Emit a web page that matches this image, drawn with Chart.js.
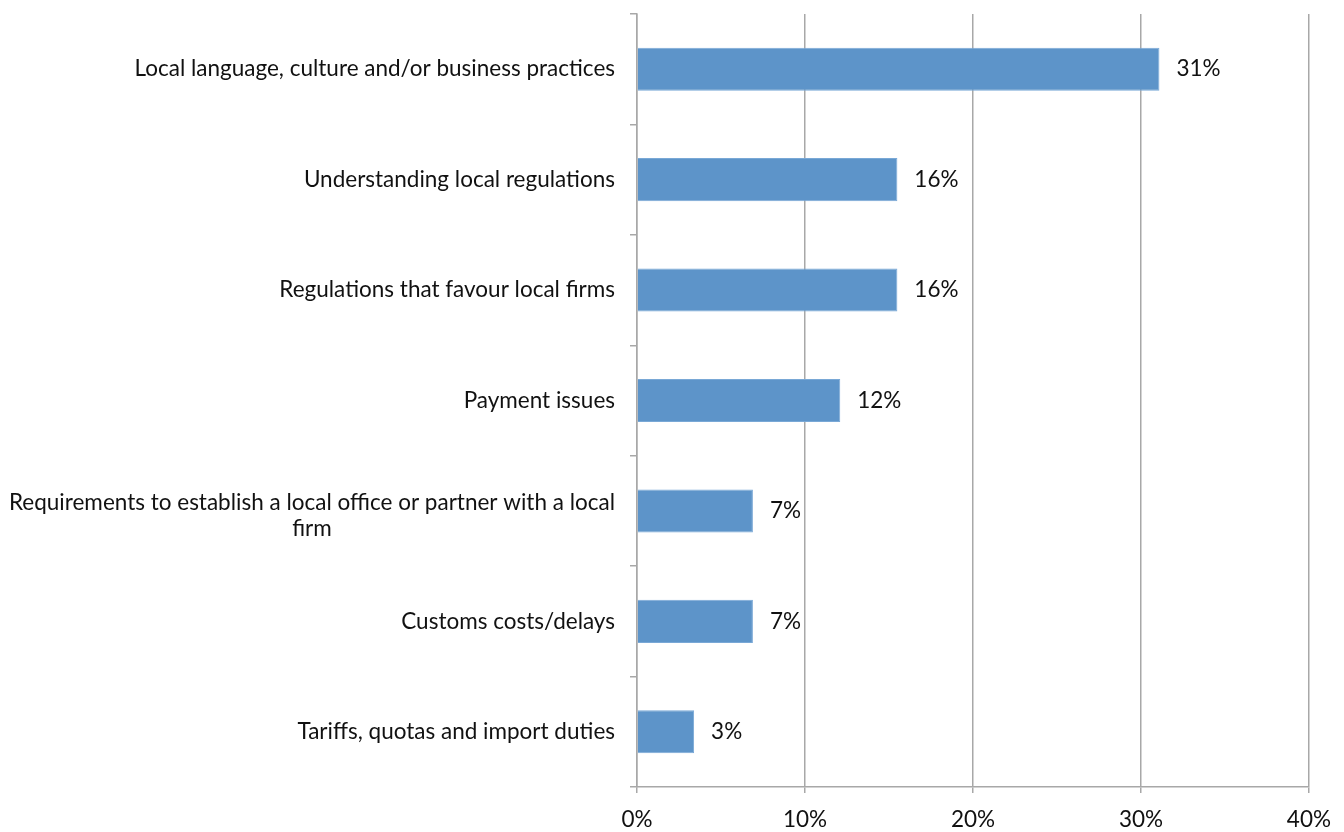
<!DOCTYPE html>
<html>
<head>
<meta charset="utf-8">
<script src="https://cdn.jsdelivr.net/npm/chart.js@4/dist/chart.umd.min.js"></script>
<style>
  html, body { margin: 0; padding: 0; background: #fff; }
  #wrap { width: 1344px; height: 832px; position: relative; }
</style>
</head>
<body>
<div id="wrap"><canvas id="myChart"></canvas></div>
<script>
const categories = [
  'Local language, culture and/or business practices',
  'Understanding local regulations',
  'Regulations that favour local firms',
  'Payment issues',
  ['Requirements to establish a local office or partner with a local', 'firm'],
  'Customs costs/delays',
  'Tariffs, quotas and import duties'
];
const shares = [31.1, 15.5, 15.5, 12.1, 6.9, 6.9, 3.4];
const xTicks = [0, 10, 20, 30, 40];

const FONT = 'Lato, "Open Sans", sans-serif';
const FONT_SIZE = 22.5;
const AXIS_X = 637;

// category labels: each block right-aligned to the axis, lines centred inside the block
const categoryLabels = {
  id: 'categoryLabels',
  afterDraw(chart) {
    const ctx = chart.ctx;
    const y = chart.scales.y;
    ctx.save();
    ctx.font = FONT_SIZE + 'px ' + FONT;
    ctx.fillStyle = '#111';
    ctx.textBaseline = 'middle';
    ctx.textAlign = 'center';
    const lineH = 26;
    categories.forEach((label, i) => {
      const lines = Array.isArray(label) ? label : [label];
      const widest = Math.max(...lines.map(l => ctx.measureText(l).width));
      const right = y.right - 22;
      const cx = right - widest / 2;
      const cy = y.getPixelForTick(i) - (lines.length - 1) * (lineH / 2 - 5);
      lines.forEach((l, k) => ctx.fillText(l, cx, cy + k * lineH));
    });
    ctx.restore();
  }
};

// percentage next to each bar
const valueLabels = {
  id: 'valueLabels',
  afterDatasetsDraw(chart) {
    const ctx = chart.ctx;
    const meta = chart.getDatasetMeta(0);
    ctx.save();
    ctx.font = FONT_SIZE + 'px ' + FONT;
    ctx.fillStyle = '#111';
    ctx.textBaseline = 'middle';
    ctx.textAlign = 'left';
    meta.data.forEach((bar, i) => {
      ctx.fillText(Math.round(shares[i]) + '%', bar.x + 17, bar.y);
    });
    ctx.restore();
  }
};

new Chart(document.getElementById('myChart'), {
  type: 'bar',
  data: {
    labels: categories,
    datasets: [{
      data: shares,
      backgroundColor: '#5d94c9',
      borderColor: '#79a8d6',
      borderWidth: 1,
      categoryPercentage: 1,
      barPercentage: 0.39
    }]
  },
  options: {
    indexAxis: 'y',
    responsive: true,
    maintainAspectRatio: false,
    animation: false,
    layout: { padding: { top: 14, right: 35, bottom: 0, left: 0 } },
    plugins: {
      legend: { display: false },
      tooltip: { enabled: false }
    },
    scales: {
      x: {
        min: 0,
        max: 40,
        afterBuildTicks(scale) {
          scale.ticks = xTicks.map(v => ({ value: v }));
        },
        afterFit(scale) { scale.height = 45; },
        ticks: {
          callback: v => v + '%',
          font: { family: FONT, size: FONT_SIZE },
          color: '#111',
          padding: 13,
          maxRotation: 0
        },
        grid: {
          color: '#a8a8a8',
          lineWidth: 1.5,
          tickLength: 6,
          drawOnChartArea: true
        },
        border: { color: '#a8a8a8', width: 1.5 }
      },
      y: {
        afterFit(scale) { scale.width = AXIS_X; },
        ticks: { display: false },
        grid: {
          drawOnChartArea: false,
          drawTicks: true,
          tickLength: 7,
          color: '#a8a8a8',
          lineWidth: 1.5
        },
        border: { color: '#a8a8a8', width: 1.5 }
      }
    }
  },
  plugins: [categoryLabels, valueLabels]
});
</script>
</body>
</html>
